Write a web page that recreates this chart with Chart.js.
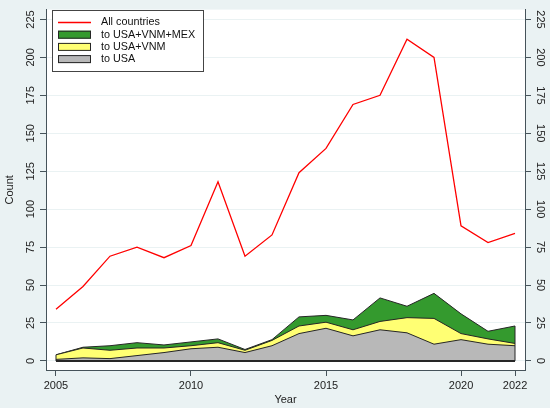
<!DOCTYPE html>
<html>
<head>
<meta charset="utf-8">
<script src="https://cdn.jsdelivr.net/npm/chart.js@4.4.1/dist/chart.umd.min.js"></script>
<style>
  html, body { margin: 0; padding: 0; background: #eaf2f3; }
  #wrap { width: 550px; height: 408px; }
</style>
</head>
<body>
<div id="wrap"><canvas id="chart" width="550" height="408"></canvas></div>
<script>
const years = [2005, 2006, 2007, 2008, 2009, 2010, 2011, 2012, 2013, 2014, 2015, 2016, 2017, 2018, 2019, 2020, 2021, 2022];
const allCountries = [34, 49, 69, 75, 68, 76, 118, 69, 83, 124, 140, 169, 175, 212, 200, 89, 78, 84];
const toUsaVnmMex = [4, 9, 10, 12, 10.5, 12.5, 14.5, 7.5, 14, 29, 30, 27, 41.5, 36, 44.5, 31, 19.5, 23];
const toUsaVnm = [4, 8.5, 7, 8.5, 8.5, 10, 12, 7, 13.5, 23, 25.5, 20.5, 26, 28.5, 28, 18, 14.5, 11.5];
const toUsa = [1, 2, 1.5, 3.5, 5.5, 8, 9, 5.5, 10, 18, 21.5, 16.5, 20.5, 18.5, 11, 14, 11, 10];
const xTicks = [2005, 2010, 2015, 2020, 2022];
const yTicks = [0, 25, 50, 75, 100, 125, 150, 175, 200, 225];

const FONT = '"Liberation Sans", Arial, sans-serif';
const axisColor = '#46535a';
const outline = '#262626';

function pts(vals) {
  return years.map((y, i) => ({ x: y, y: vals[i] }));
}

// fond blanc de la zone de tracé
const plotBg = {
  id: 'plotBg',
  beforeDraw(chart) {
    const { ctx, chartArea: a } = chart;
    ctx.save();
    ctx.fillStyle = '#eaf2f3';
    ctx.fillRect(0, 0, chart.width, chart.height);
    ctx.fillStyle = '#ffffff';
    ctx.fillRect(a.left, a.top, a.right - a.left, a.bottom - a.top);
    ctx.restore();
  }
};

// étiquettes verticales, ligne de base, légende
const extras = {
  id: 'extras',
  afterDatasetsDraw(chart) {
    const { ctx, scales } = chart;
    const x = scales.x, y = scales.y;
    const y0 = y.getPixelForValue(0);
    const xa = x.getPixelForValue(years[0]);
    const xb = x.getPixelForValue(years[years.length - 1]);
    ctx.save();
    ctx.strokeStyle = outline;
    ctx.lineWidth = 1;
    ctx.beginPath();
    ctx.moveTo(xa, y.getPixelForValue(toUsaVnmMex[0]));
    ctx.lineTo(xa, y0);
    ctx.moveTo(xb, y.getPixelForValue(toUsaVnmMex[toUsaVnmMex.length - 1]));
    ctx.lineTo(xb, y0);
    ctx.stroke();
    ctx.lineWidth = 2;
    ctx.beginPath();
    ctx.moveTo(xa, y0);
    ctx.lineTo(xb, y0);
    ctx.stroke();
    ctx.restore();
  },
  afterDraw(chart) {
    const { ctx, scales } = chart;
    const y = scales.y;
    ctx.save();
    ctx.fillStyle = '#222';
    ctx.font = '11px ' + FONT;
    ctx.textAlign = 'center';
    ctx.textBaseline = 'middle';
    yTicks.forEach(v => {
      const py = y.getPixelForValue(v);
      ctx.save();
      ctx.translate(31, py);
      ctx.rotate(-Math.PI / 2);
      ctx.fillText(String(v), 0, 0);
      ctx.restore();
      ctx.save();
      ctx.translate(540, py);
      ctx.rotate(Math.PI / 2);
      ctx.fillText(String(v), 0, 0);
      ctx.restore();
    });
    ctx.save();
    ctx.translate(10, (y.top + y.bottom) / 2);
    ctx.rotate(-Math.PI / 2);
    ctx.fillText('Count', 0, 0);
    ctx.restore();

    // légende
    const lx = 52, ly = 10, lw = 151, lh = 61;
    ctx.fillStyle = '#ffffff';
    ctx.fillRect(lx, ly, lw, lh);
    ctx.strokeStyle = '#444';
    ctx.lineWidth = 1;
    ctx.strokeRect(lx + 0.5, ly + 0.5, lw, lh);
    ctx.font = '10.8px ' + FONT;
    const items = [0, 3, 2, 1].map(i => chart.data.datasets[i]);
    items.forEach((ds, k) => {
      const cy = ly + 12.5 + k * 12.2;
      if (k === 0) {
        ctx.strokeStyle = ds.borderColor;
        ctx.lineWidth = 1.3;
        ctx.beginPath();
        ctx.moveTo(58, cy);
        ctx.lineTo(91, cy);
        ctx.stroke();
      } else {
        ctx.fillStyle = ds.backgroundColor;
        ctx.fillRect(58, cy - 4, 33, 8);
        ctx.strokeStyle = outline;
        ctx.lineWidth = 1;
        ctx.strokeRect(58.5, cy - 3.5, 32, 7);
      }
      ctx.fillStyle = '#111';
      ctx.textAlign = 'left';
      ctx.fillText(ds.label, 101, cy);
    });
    ctx.restore();
  }
};

new Chart(document.getElementById('chart'), {
  type: 'line',
  data: {
    datasets: [
      {
        label: 'All countries',
        data: pts(allCountries),
        borderColor: '#ff0000',
        borderWidth: 1.3,
        pointRadius: 0,
        fill: false
      },
      {
        label: 'to USA',
        data: pts(toUsa),
        borderColor: outline,
        backgroundColor: '#b8b8b8',
        borderWidth: 1,
        pointRadius: 0,
        fill: 'origin'
      },
      {
        label: 'to USA+VNM',
        data: pts(toUsaVnm),
        borderColor: outline,
        backgroundColor: '#ffff73',
        borderWidth: 1,
        pointRadius: 0,
        fill: 'origin'
      },
      {
        label: 'to USA+VNM+MEX',
        data: pts(toUsaVnmMex),
        borderColor: outline,
        backgroundColor: '#349a2e',
        borderWidth: 1,
        pointRadius: 0,
        fill: 'origin'
      }
    ]
  },
  options: {
    responsive: false,
    animation: false,
    layout: { padding: { top: 5, left: 0, right: 0, bottom: 0 } },
    plugins: {
      legend: { display: false },
      tooltip: { enabled: false }
    },
    scales: {
      x: {
        type: 'linear',
        min: 2004.63,
        max: 2022.37,
        afterBuildTicks: s => { s.ticks = xTicks.map(v => ({ value: v })); },
        afterFit: s => { s.height = 38; },
        grid: { drawOnChartArea: false, tickLength: 6, tickColor: axisColor },
        border: { color: axisColor, width: 1 },
        ticks: { color: '#222', font: { family: FONT, size: 11 }, padding: 3, maxRotation: 0, callback: v => String(v) },
        title: { display: true, text: 'Year', color: '#222', font: { family: FONT, size: 11 }, padding: { top: 0, bottom: 1 } }
      },
      y: {
        position: 'left',
        min: -6,
        max: 231.5,
        afterBuildTicks: s => { s.ticks = yTicks.map(v => ({ value: v })); },
        afterFit: s => { s.width = 46; },
        grid: { color: '#eaf2f3', lineWidth: 1, tickLength: 6, tickColor: axisColor },
        border: { color: axisColor, width: 1 },
        ticks: { color: 'rgba(0,0,0,0)', font: { family: FONT, size: 11 } }
      },
      y2: {
        position: 'right',
        min: -6,
        max: 231.5,
        afterBuildTicks: s => { s.ticks = yTicks.map(v => ({ value: v })); },
        afterFit: s => { s.width = 25; },
        grid: { drawOnChartArea: false, tickLength: 6, tickColor: axisColor },
        border: { color: axisColor, width: 1 },
        ticks: { color: 'rgba(0,0,0,0)', font: { family: FONT, size: 11 } }
      }
    }
  },
  plugins: [plotBg, extras]
});
</script>
</body>
</html>
